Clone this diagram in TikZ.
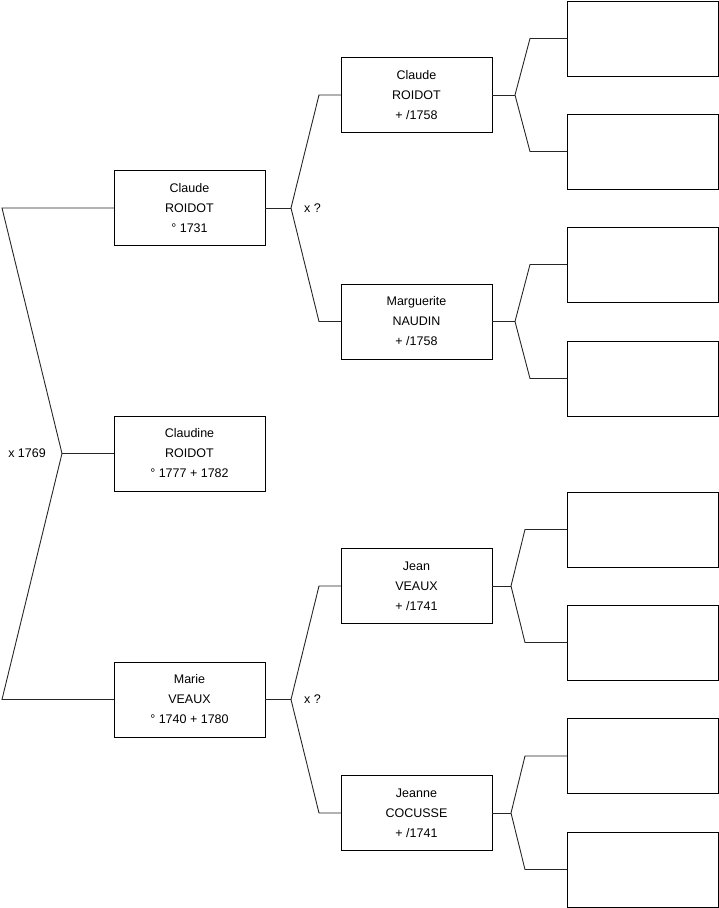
\documentclass[tikz,border=0pt]{standalone}
\usepackage{fontspec}
\setmainfont{Liberation Sans}
\usepackage{tikz}
\usetikzlibrary{positioning, calc}

\begin{document}
\begin{tikzpicture}[
  x=1pt, y=-1pt,
  person/.style={rectangle, draw, minimum width=151pt, minimum height=75pt, inner sep=0pt,
                 font=\fontsize{12.5}{20}\selectfont, align=center},
  blank/.style={person},
  link/.style={line width=0.9pt, black!85},
  lbl/.style={font=\fontsize{12.5}{15}\selectfont, inner sep=3pt}
]
  \useasboundingbox (0,0) rectangle (719,908);

  % Generation 1: the child and her parents
  \node[person] (claude) at (189.5, 208) {Claude\\ROIDOT\\° 1731};
  \node[person] (claudine) at (189.5, 453.5) {Claudine\\ROIDOT\\° 1777 + 1782};
  \node[person] (marie) at (189.5, 699.5) {Marie\\VEAUX\\° 1740 + 1780};

  \coordinate (m0) at (62, 453.5);
  \coordinate (m0a) at (2, 208);
  \coordinate (m0b) at (2, 699.5);
  \draw[link] (claude.west) -- (m0a) -- (m0) -- (m0b) -- (marie.west);
  \draw[link] (m0) -- (claudine.west);
  \node[lbl, left=13pt of m0] {x 1769};

  % Generation 2: grandparents
  \node[person] (croidot) at (416.5, 95) {Claude\\ROIDOT\\ + /1758};
  \node[person] (mnaudin) at (416.5, 321.5) {Marguerite\\NAUDIN\\ + /1758};
  \node[person] (jveaux) at (416.5, 586) {Jean\\VEAUX\\ + /1741};
  \node[person] (jcocusse) at (416.5, 813) {Jeanne\\COCUSSE\\ + /1741};

  \coordinate (m1) at (291, 208);
  \coordinate (m1a) at (319, 95);
  \coordinate (m1b) at (319, 321.5);
  \draw[link] (claude.east) -- (m1);
  \draw[link] (croidot.west) -- (m1a) -- (m1) -- (m1b) -- (mnaudin.west);
  \node[lbl, right=10pt of m1] {x ?};

  \coordinate (m2) at (291, 699.5);
  \coordinate (m2a) at (319, 586);
  \coordinate (m2b) at (319, 813);
  \draw[link] (marie.east) -- (m2);
  \draw[link] (jveaux.west) -- (m2a) -- (m2) -- (m2b) -- (jcocusse.west);
  \node[lbl, right=10pt of m2] {x ?};

  % Generation 3: empty boxes
  \node[blank] (g1) at (643, 38.5) {};
  \node[blank] (g2) at (643, 151.5) {};
  \node[blank] (g3) at (643, 264.5) {};
  \node[blank] (g4) at (643, 378.5) {};
  \node[blank] (g5) at (643, 529.5) {};
  \node[blank] (g6) at (643, 642.5) {};
  \node[blank] (g7) at (643, 756) {};
  \node[blank] (g8) at (643, 869.5) {};

  \coordinate (m3) at (515, 95);
  \coordinate (m3a) at (530, 38.5);
  \coordinate (m3b) at (530, 151.5);
  \draw[link] (croidot.east) -- (m3);
  \draw[link] (g1.west) -- (m3a) -- (m3) -- (m3b) -- (g2.west);

  \coordinate (m4) at (515, 321.5);
  \coordinate (m4a) at (530, 264.5);
  \coordinate (m4b) at (530, 378.5);
  \draw[link] (mnaudin.east) -- (m4);
  \draw[link] (g3.west) -- (m4a) -- (m4) -- (m4b) -- (g4.west);

  \coordinate (m5) at (511, 586);
  \coordinate (m5a) at (525, 529.5);
  \coordinate (m5b) at (525, 642.5);
  \draw[link] (jveaux.east) -- (m5);
  \draw[link] (g5.west) -- (m5a) -- (m5) -- (m5b) -- (g6.west);

  \coordinate (m6) at (511, 813);
  \coordinate (m6a) at (525, 756);
  \coordinate (m6b) at (525, 869.5);
  \draw[link] (jcocusse.east) -- (m6);
  \draw[link] (g7.west) -- (m6a) -- (m6) -- (m6b) -- (g8.west);
\end{tikzpicture}
\end{document}
